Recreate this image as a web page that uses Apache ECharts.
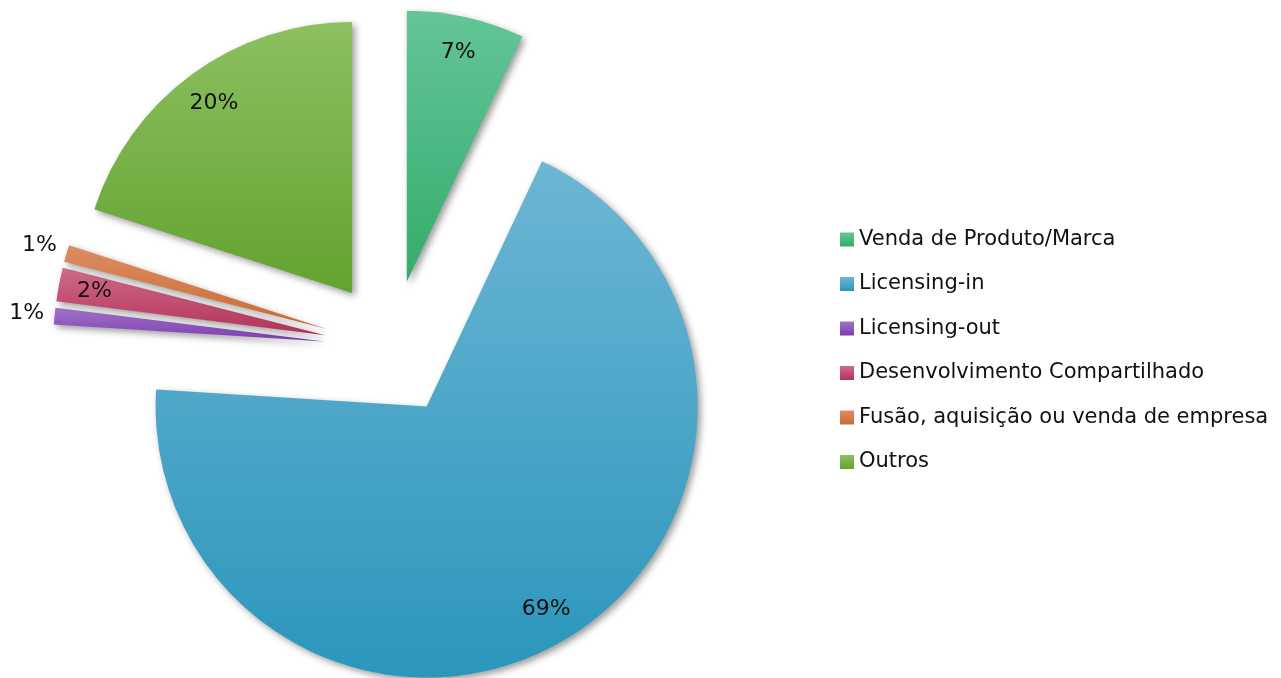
<!DOCTYPE html>
<html>
<head>
<meta charset="utf-8">
<script src="https://cdn.jsdelivr.net/npm/echarts@6/dist/echarts.min.js"></script>
<style>
html,body{margin:0;padding:0;background:#fff;}
#chart{width:1281px;height:678px;}
</style>
</head>
<body>
<div id="chart"></div>
<script>
var categories = ['Venda de Produto/Marca','Licensing-in','Licensing-out','Desenvolvimento Compartilhado','Fusão, aquisição ou venda de empresa','Outros'];
var values = [7, 69, 1, 2, 1, 20];
var topColors = ['#64c597','#6db6d4','#a273cb','#d06b88','#dc8d62','#8dc060'];
var bottomColors = ['#34ac6c','#2b96bc','#7d3daf','#b3325a','#cb6a33','#62a330'];
var outsideLabel = [false, false, true, false, true, false];

var FONT = 'DejaVu Sans';
var center = [392, 348];
var R = 271;
var OFFSET = 68;

function grad(i){
  return new echarts.graphic.LinearGradient(0,0,0,1,[{offset:0,color:topColors[i]},{offset:1,color:bottomColors[i]}]);
}

var mainData = categories.map(function(n,i){
  return {name:n, value:values[i], selected:true, itemStyle:{color:grad(i)}};
});
var innerLabelData = categories.map(function(n,i){
  return {name:n, value:values[i], selected:true, label:{show:!outsideLabel[i]}};
});
var outerLabelData = categories.map(function(n,i){
  return {name:n, value:values[i], selected:true, label:{show:outsideLabel[i]}};
});

var chart = echarts.init(document.getElementById('chart'));
var labelSeriesBase = {
  type:'pie', center:center, startAngle:90, clockwise:true,
  selectedMode:'multiple', selectedOffset:OFFSET, silent:true,
  avoidLabelOverlap:false, animation:false,
  itemStyle:{color:'rgba(0,0,0,0)'},
  emphasis:{disabled:true},
  labelLine:{show:false},
  label:{position:'inside', formatter:'{d}%', color:'#111', fontFamily:FONT, fontSize:22}
};
chart.setOption({
  animation:false,
  legend:{
    orient:'vertical', left:835, top:224,
    data:categories,
    icon:'rect', itemWidth:14, itemHeight:14, itemGap:23.5,
    selectedMode:false,
    textStyle:{fontFamily:FONT, fontSize:21, color:'#111'}
  },
  series:[
    {
      type:'pie', name:'main', center:center, radius:[0,R], startAngle:90, clockwise:true,
      selectedMode:'multiple', selectedOffset:OFFSET, animation:false,
      label:{show:false}, labelLine:{show:false},
      itemStyle:{shadowBlur:7, shadowOffsetX:3, shadowOffsetY:3, shadowColor:'rgba(0,0,0,0.4)'},
      emphasis:{disabled:true},
      data:mainData
    },
    Object.assign({}, labelSeriesBase, {name:'lblIn', radius:[194,270], data:innerLabelData}),
    Object.assign({}, labelSeriesBase, {name:'lblOut', radius:[274,318], data:outerLabelData})
  ]
});
</script>
</body>
</html>
